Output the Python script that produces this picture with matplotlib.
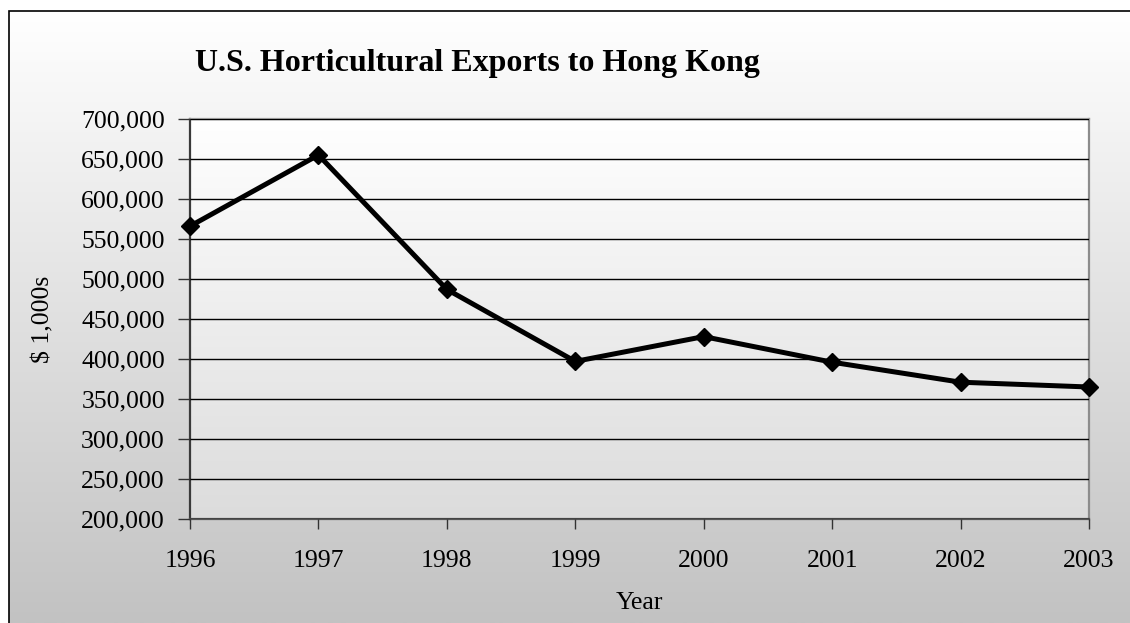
import matplotlib.pyplot as plt
import numpy as np
from matplotlib.colors import LinearSegmentedColormap
from matplotlib.patches import Rectangle
from matplotlib.ticker import FuncFormatter

plt.rcParams['font.family'] = ['Liberation Serif', 'DejaVu Serif']

years = [1996, 1997, 1998, 1999, 2000, 2001, 2002, 2003]
exports = [566000, 655000, 487000, 397000, 428000, 396000, 371000, 365000]  # $ 1,000s
y_ticks = list(range(200000, 700001, 50000))

W, H = 1130, 623
fig = plt.figure(figsize=(W / 100, H / 100), dpi=100)

grad = np.linspace(0, 1, 256).reshape(-1, 1)
fig_cmap = LinearSegmentedColormap.from_list('fig_bg', ['#ffffff', '#c2c2c2'])
area_cmap = LinearSegmentedColormap.from_list('area_bg', ['#ffffff', '#dcdcdc'])

# figure background: vertical gradient white -> grey, with a thin black frame
bg = fig.add_axes([0, 0, 1, 1], zorder=-10)
bg.imshow(grad, cmap=fig_cmap, aspect='auto',
          extent=[9 / W, 1, 0, 1 - 11 / H], origin='upper')
bg.add_patch(Rectangle((9 / W, -0.1), 1.2, 1 - 11 / H + 0.1, fill=False,
                       ec='black', lw=1.2))
bg.set_xlim(0, 1)
bg.set_ylim(0, 1)
bg.axis('off')

ax = fig.add_axes([190 / W, 1 - 519 / H, 899 / W, 400 / H])

# plot area gradient
ax.imshow(grad, cmap=area_cmap, aspect='auto',
          extent=[years[0], years[-1], 200000, 700000], origin='upper', zorder=0)

ax.plot(years, exports, color='black', lw=3.6, marker='D', markersize=9.5,
        markeredgewidth=1, zorder=3, clip_on=False)

ax.set_xlim(years[0], years[-1])
ax.set_ylim(200000, 700000)
ax.set_xticks(years)
ax.set_yticks(y_ticks)
ax.yaxis.set_major_formatter(FuncFormatter(lambda v, p: f"{int(v):,}"))
ax.grid(axis='y', color='black', lw=1)
ax.set_axisbelow(False)
for gl in ax.get_ygridlines():
    gl.set_zorder(1)

ax.tick_params(axis='both', labelsize=18.5, width=1, color='#333333')
ax.tick_params(axis='y', length=9, pad=9)
ax.tick_params(axis='x', length=7, pad=15)

ax.spines['left'].set_color('#3a3a3a')
ax.spines['left'].set_linewidth(1.6)
ax.spines['bottom'].set_color('#555555')
ax.spines['bottom'].set_linewidth(1.6)
ax.spines['top'].set_color('#999999')
ax.spines['top'].set_linewidth(1.6)
ax.spines['right'].set_color('#8c8c8c')
ax.spines['right'].set_linewidth(1.6)

fig.text(195 / W, 1 - 71 / H, "U.S. Horticultural Exports to Hong Kong",
         fontsize=23, fontweight='bold', ha='left', va='baseline')
fig.text(43 / W, 1 - 319 / H, "$ 1,000s", fontsize=18.5, rotation=90,
         ha='center', va='center')
fig.text(639.5 / W, 1 - 603 / H, "Year", fontsize=18.5, ha='center', va='center')

fig.savefig("out.png", dpi=100)
